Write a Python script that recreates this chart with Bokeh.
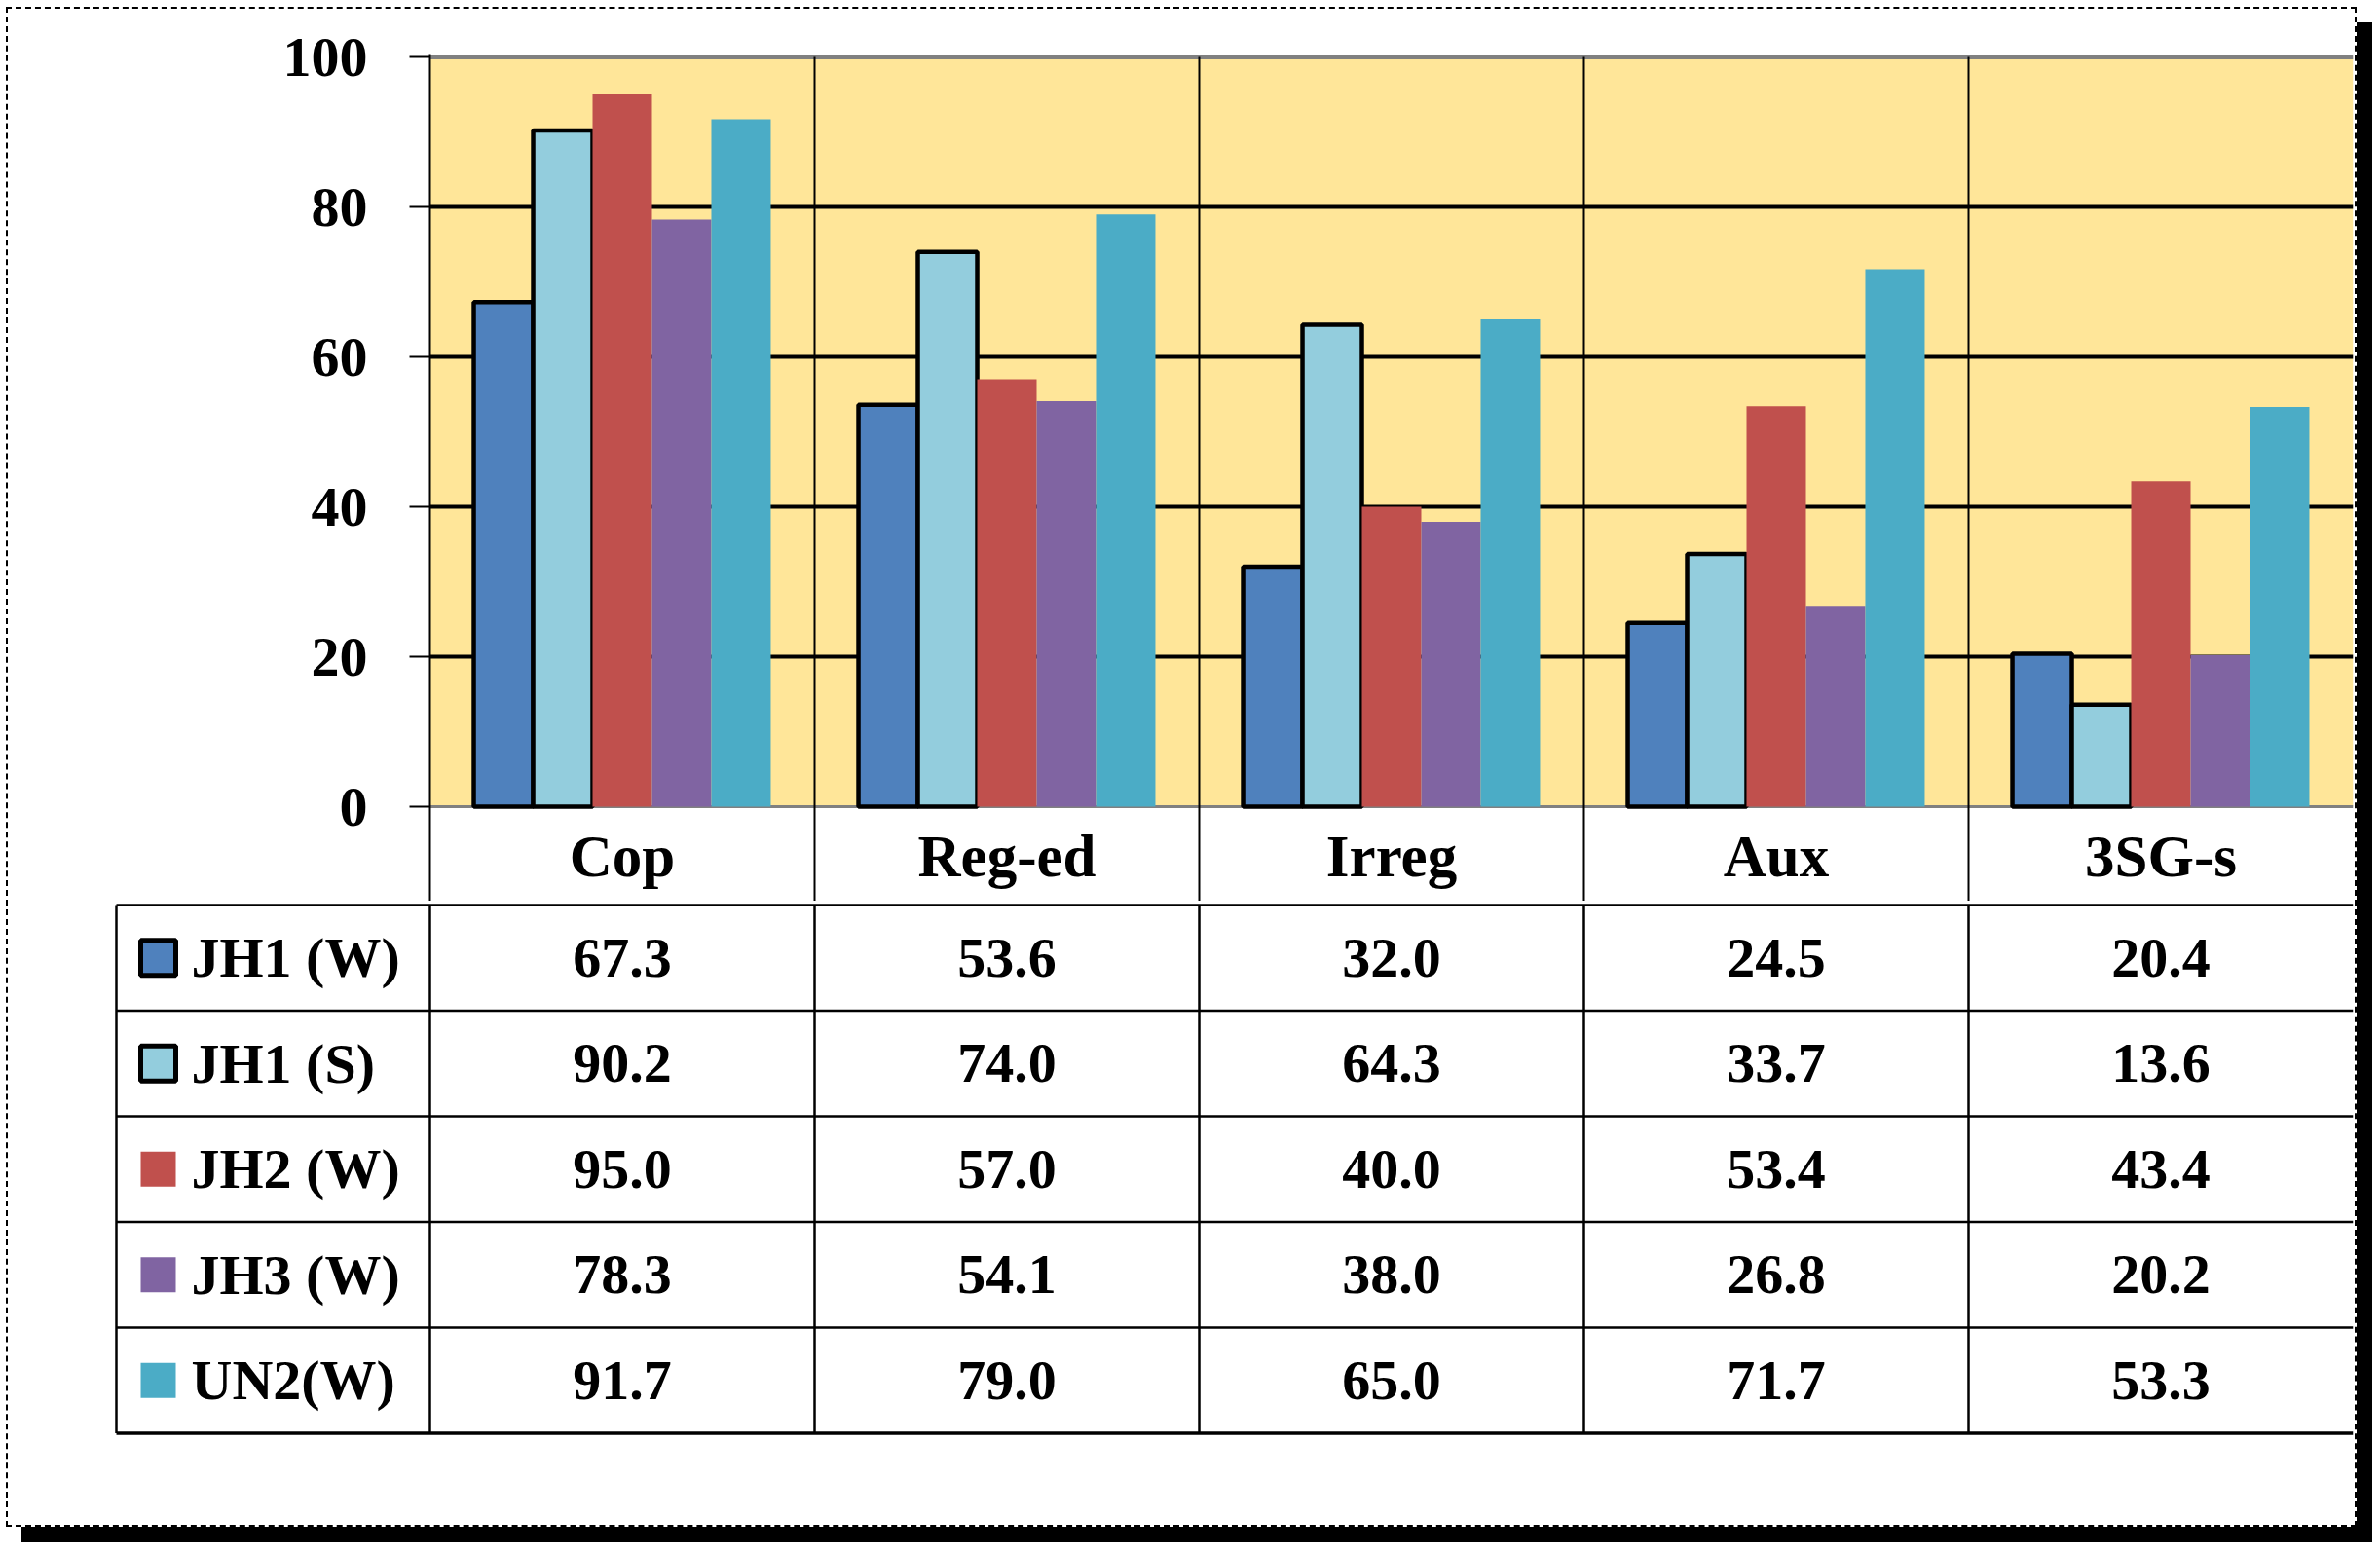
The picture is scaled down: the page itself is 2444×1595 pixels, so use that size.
from bokeh.plotting import figure
from bokeh.models import Range1d, FixedTicker
from bokeh.layouts import column
from bokeh.embed import file_html
from bokeh.resources import INLINE
from bokeh.core.properties import value

categories = ["Cop", "Reg-ed", "Irreg", "Aux", "3SG-s"]
series_names = ["JH1 (W)", "JH1 (S)", "JH2 (W)", "JH3 (W)", "UN2(W)"]
jh1_w = [67.3, 53.6, 32.0, 24.5, 20.4]
jh1_s = [90.2, 74.0, 64.3, 33.7, 13.6]
jh2_w = [95.0, 57.0, 40.0, 53.4, 43.4]
jh3_w = [78.3, 54.1, 38.0, 26.8, 20.2]
un2_w = [91.7, 79.0, 65.0, 71.7, 53.3]
series_values = [jh1_w, jh1_s, jh2_w, jh3_w, un2_w]
series_colors = ["#4F81BD", "#93CDDD", "#C0504D", "#8064A2", "#4BACC6"]
series_outlined = [True, True, False, False, False]
y_ticks = [0, 20, 40, 60, 80, 100]
grid_values = [20, 40, 60, 80]

FONT = value("Liberation Serif")
PX_PER_UNIT_Y = 7.7     # pixels per percentage point
N = len(categories)

# ---------------- top: bar chart ----------------
top = figure(width=2410, height=916, output_backend="svg", toolbar_location=None,
             x_axis_location=None, min_border_left=433, min_border_right=2,
             min_border_top=46, min_border_bottom=0, frame_align=False,
             x_range=Range1d(0, N),
             y_range=Range1d(-(933 - 836) / PX_PER_UNIT_Y, (836 - 63) / PX_PER_UNIT_Y))
top.outline_line_color = None
top.xgrid.visible = False
top.ygrid.visible = False
top.background_fill_color = "white"
top.border_fill_color = "white"

# plot area
top.quad(left=[0], right=[N], bottom=[0], top=[100], fill_color="#FFE699", line_color=None)
top.segment(x0=[0] * len(grid_values), x1=[N] * len(grid_values), y0=grid_values, y1=grid_values,
            line_color="black", line_width=4)
top.segment(x0=[0], x1=[N], y0=[100], y1=[100], line_color="#808080", line_width=5)
top.segment(x0=[0], x1=[N], y0=[0], y1=[0], line_color="#808080", line_width=3)
bounds = list(range(1, N))
top.segment(x0=bounds, x1=bounds, y0=[-13] * len(bounds), y1=[100] * len(bounds),
            line_color="black", line_width=2)

bar_w = 0.1544
for j, (vals, col, outl) in enumerate(zip(series_values, series_colors, series_outlined)):
    xs = [i + 0.5 + (j - 2) * bar_w for i in range(N)]
    top.vbar(x=xs, top=vals, bottom=0, width=bar_w, fill_color=col,
             line_color="black" if outl else None, line_width=4.5)

top.text(x=[i + 0.5 for i in range(N)], y=[-(887 - 836) / PX_PER_UNIT_Y] * N, text=categories,
         text_font=FONT, text_font_style="bold", text_font_size="61px",
         text_align="center", text_baseline="middle", text_color="black")

ya = top.yaxis[0]
ya.ticker = FixedTicker(ticks=y_ticks)
ya.major_label_text_font = "Liberation Serif"
ya.major_label_text_font_style = "bold"
ya.major_label_text_font_size = "58px"
ya.major_label_text_color = "black"
ya.major_tick_out = 21
ya.major_tick_in = 0
ya.major_tick_line_width = 2
ya.major_tick_line_color = "black"
ya.minor_tick_line_color = None
ya.axis_line_color = "black"
ya.axis_line_width = 2
ya.major_label_standoff = 43

# ---------------- bottom: data table ----------------
ROW = 108.5
bot = figure(width=2410, height=641, output_backend="svg", toolbar_location=None,
             x_axis_location=None, y_axis_location=None, frame_align=False,
             min_border_left=108, min_border_right=2, min_border_top=0, min_border_bottom=0,
             x_range=Range1d((124 - 449) / 395.0, N),
             y_range=Range1d(-(1574 - 937) / ROW, (937 - 933) / ROW))
bot.outline_line_color = None
bot.xgrid.visible = False
bot.ygrid.visible = False
bot.background_fill_color = "white"
bot.border_fill_color = "white"

left_edge = (127 - 449) / 395.0
nrows = len(series_names)
hy = [-k for k in range(nrows + 1)]
bot.segment(x0=[left_edge] * (nrows + 1), x1=[N] * (nrows + 1), y0=hy, y1=hy,
            line_color="black", line_width=[2.5] * nrows + [3.5])
vx = [left_edge] + list(range(0, N))
bot.segment(x0=vx, x1=vx, y0=[0] * len(vx), y1=[-nrows] * len(vx), line_color="black", line_width=2.5)

# legend swatches + names
sw_x = (170 - 449) / 395.0
row_c = [-(k + 0.5) for k in range(nrows)]
bot.rect(x=[sw_x] * nrows, y=row_c, width=36, height=36, width_units="screen", height_units="screen",
         fill_color=series_colors,
         line_color=["black" if o else None for o in series_outlined], line_width=5)
bot.text(x=[(204 - 449) / 395.0] * nrows, y=row_c, text=series_names,
         text_font=FONT, text_font_style="bold", text_font_size="58px",
         text_align="left", text_baseline="middle", text_color="black")

# values
cx, cy, ct = [], [], []
for k, vals in enumerate(series_values):
    for i, v in enumerate(vals):
        cx.append(i + 0.5)
        cy.append(-(k + 0.5))
        ct.append(f"{v:.1f}")
bot.text(x=cx, y=cy, text=ct, text_font=FONT, text_font_style="bold", text_font_size="58px",
         text_align="center", text_baseline="middle", text_color="black")

layout = column(top, bot, spacing=0,
                styles={"border": "2px dashed black", "box-shadow": "16px 16px 0 0 #000",
                        "background-color": "white", "transform": "translate(6px, 7px)"})

open("out.html", "w").write(file_html(layout, INLINE))
